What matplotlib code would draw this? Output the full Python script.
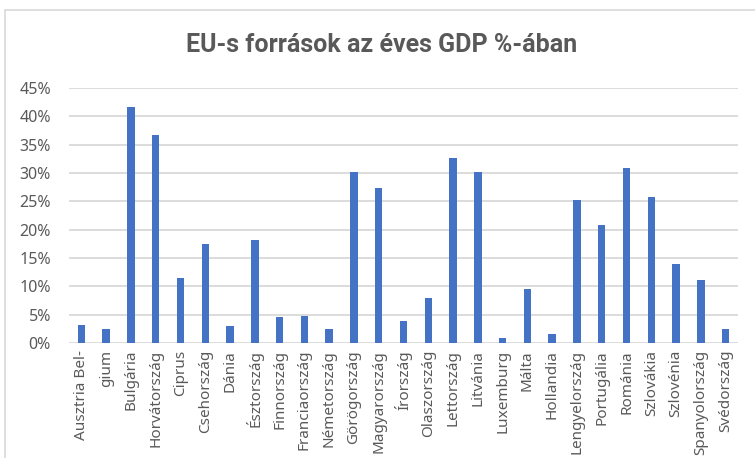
import matplotlib
matplotlib.use("Agg")
import matplotlib.pyplot as plt
from matplotlib.ticker import PercentFormatter
from matplotlib.patches import Rectangle

# Adatok
orszagok = ["Ausztria Bel-", "gium", "Bulgária", "Horvátország", "Ciprus",
            "Csehország", "Dánia", "Észtország", "Finnország", "Franciaország",
            "Németország", "Görögország", "Magyarország", "Írország",
            "Olaszország", "Lettország", "Litvánia", "Luxemburg", "Málta",
            "Hollandia", "Lengyelország", "Portugália", "Románia", "Szlovákia",
            "Szlovénia", "Spanyolország", "Svédország"]
ertekek = [3.2, 2.5, 41.6, 36.7, 11.4, 17.5, 3.0, 18.2, 4.5, 4.8,
           2.5, 30.1, 27.3, 3.8, 8.0, 32.6, 30.1, 0.8, 9.5, 1.65,
           25.2, 20.9, 30.8, 25.7, 13.9, 11.1, 2.5]
y_ticks = [0, 5, 10, 15, 20, 25, 30, 35, 40, 45]

szurke = "#595959"
plt.rcParams["font.family"] = ["Noto Sans", "DejaVu Sans"]

fig = plt.figure(figsize=(7.55, 4.58), dpi=100)
ax = fig.add_axes([0.0914, 0.2511, 0.8861, 0.5568])

# keret a diagram körül
fig.patches.append(Rectangle((5 / 755, -0.05), 1.0, 1 - 10 / 458 + 0.05,
                             transform=fig.transFigure, fill=False,
                             edgecolor="#d9d9d9", linewidth=1.2))

x = range(len(orszagok))
ax.bar(x, ertekek, width=0.3, color="#4472C4", zorder=3)

ax.set_xlim(-0.5, len(orszagok) - 0.5)
ax.set_ylim(0, 45)
ax.set_yticks(y_ticks)
ax.yaxis.set_major_formatter(PercentFormatter(decimals=0))
ax.set_xticks(list(x))
ax.set_xticklabels(orszagok, rotation=90, ha="center", va="top", fontsize=11)
ax.tick_params(axis="both", length=0, colors=szurke)
ax.tick_params(axis="y", pad=13, labelsize=11.5)
ax.tick_params(axis="x", pad=5)
ax.grid(axis="y", color="#d9d9d9", linewidth=1.3, zorder=0)
for s in ax.spines.values():
    s.set_visible(False)

fig.text(0.505, 0.902, "EU-s források az éves GDP %-ában", ha="center",
         va="center", fontsize=18, fontweight="bold", color=szurke,
         family="Roboto")

fig.savefig("out.png", dpi=100)
